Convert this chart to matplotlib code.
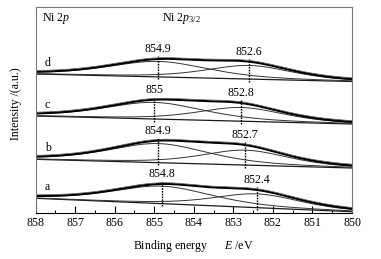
import numpy as np
import matplotlib
matplotlib.use("Agg")
import matplotlib.pyplot as plt
from matplotlib.ticker import MultipleLocator

plt.rcParams['font.family'] = ['Liberation Serif', 'DejaVu Serif']
plt.rcParams['mathtext.fontset'] = 'custom'
plt.rcParams['mathtext.rm'] = 'Liberation Serif'
plt.rcParams['mathtext.it'] = 'Liberation Serif:italic'

# ---- data ----
samples = ['a', 'b', 'c', 'd']
base_left = [14.7, 53.7, 97.0, 139.0]     # linear background at 858 eV
base_right = [1.3, 45.0, 89.0, 131.5]     # linear background at 850 eV
peak1_pos = [854.8, 854.9, 855.0, 854.9]
peak1_height = [17.5, 19.1, 16.6, 15.5]
peak2_pos = [852.4, 852.7, 852.8, 852.6]
peak2_height = [13.8, 14.9, 13.7, 13.6]
peak1_fwhm = 3.0
peak2_fwhm = 2.6
lorentz_frac = 0.5
peak1_labels = ['854.8', '854.9', '855', '854.9']
peak2_labels = ['852.4', '852.7', '852.8', '852.6']
xticks = [858, 857, 856, 855, 854, 853, 852, 851, 850]

E = np.linspace(858, 850, 400)


def pvoigt(x, c, h, w, eta):
    d2 = (x - c) ** 2
    L = 1.0 / (1.0 + 4.0 * d2 / w ** 2)
    G = np.exp(-4.0 * np.log(2) * d2 / w ** 2)
    return h * (eta * L + (1 - eta) * G)


def background(x, l, r):
    return l + (r - l) * (858 - x) / 8.0


fig = plt.figure(figsize=(3.81, 2.59), dpi=100)
ax = fig.add_axes([35.5 / 381, 1 - 213 / 259, (352 - 35.5) / 381, (213 - 7) / 259])

fs = 8.6
for i, s in enumerate(samples):
    bg = background(E, base_left[i], base_right[i])
    p1 = pvoigt(E, peak1_pos[i], peak1_height[i], peak1_fwhm, lorentz_frac)
    p2 = pvoigt(E, peak2_pos[i], peak2_height[i], peak2_fwhm, lorentz_frac)
    env = bg + p1 + p2
    ax.plot(E, bg, color='#1a1a1a', lw=0.9)
    ax.plot(E, bg + p1, color='#333333', lw=0.7)
    ax.plot(E, bg + p2, color='#333333', lw=0.7)
    ax.plot(E, env, color='black', lw=1.5)
    ax.plot(E, env + 1.2, color='#555555', lw=0.5)
    for pos, lab in ((peak1_pos[i], peak1_labels[i]), (peak2_pos[i], peak2_labels[i])):
        e_top = np.interp(pos, E[::-1], env[::-1])
        b_bot = background(pos, base_left[i], base_right[i])
        ax.plot([pos, pos], [b_bot - 2.5, e_top + 2.5], color='black', lw=1.0,
                ls=(0, (1.2, 0.8)))
        ax.text(pos, e_top + 3.5, lab, ha='center', va='bottom', fontsize=fs)
    ax.text(857.76, base_left[i] + 11, s, ha='left', va='center', fontsize=fs)

ax.text(0.02, 0.93, 'Ni 2$p$', transform=ax.transAxes, fontsize=fs, va='baseline')
ax.text(0.40, 0.93, 'Ni 2$p_{3/2}$', transform=ax.transAxes, fontsize=fs, va='baseline')

ax.set_xlim(858, 850)
ax.set_ylim(0, 206)
ax.set_xticks(xticks)
ax.set_xticklabels([str(t) for t in xticks])
ax.xaxis.set_minor_locator(MultipleLocator(0.5))
ax.tick_params(axis='x', which='major', direction='in', length=5, width=0.8,
               labelsize=fs, pad=3, top=False)
ax.tick_params(axis='x', which='minor', direction='in', length=2.5, width=0.7, top=False)
ax.set_yticks([])
for sp in ('left', 'top', 'right'):
    ax.spines[sp].set_color('#777777')
    ax.spines[sp].set_linewidth(0.8)
ax.spines['bottom'].set_color('black')
ax.spines['bottom'].set_linewidth(0.8)

ax.set_xlabel('Binding energy      $E$ /eV', fontsize=fs, labelpad=6)
ax.set_ylabel('Intensity /(a.u.)', fontsize=fs)
ax.yaxis.set_label_coords(-0.043, 0.53)

fig.savefig('out.png', dpi=100)
